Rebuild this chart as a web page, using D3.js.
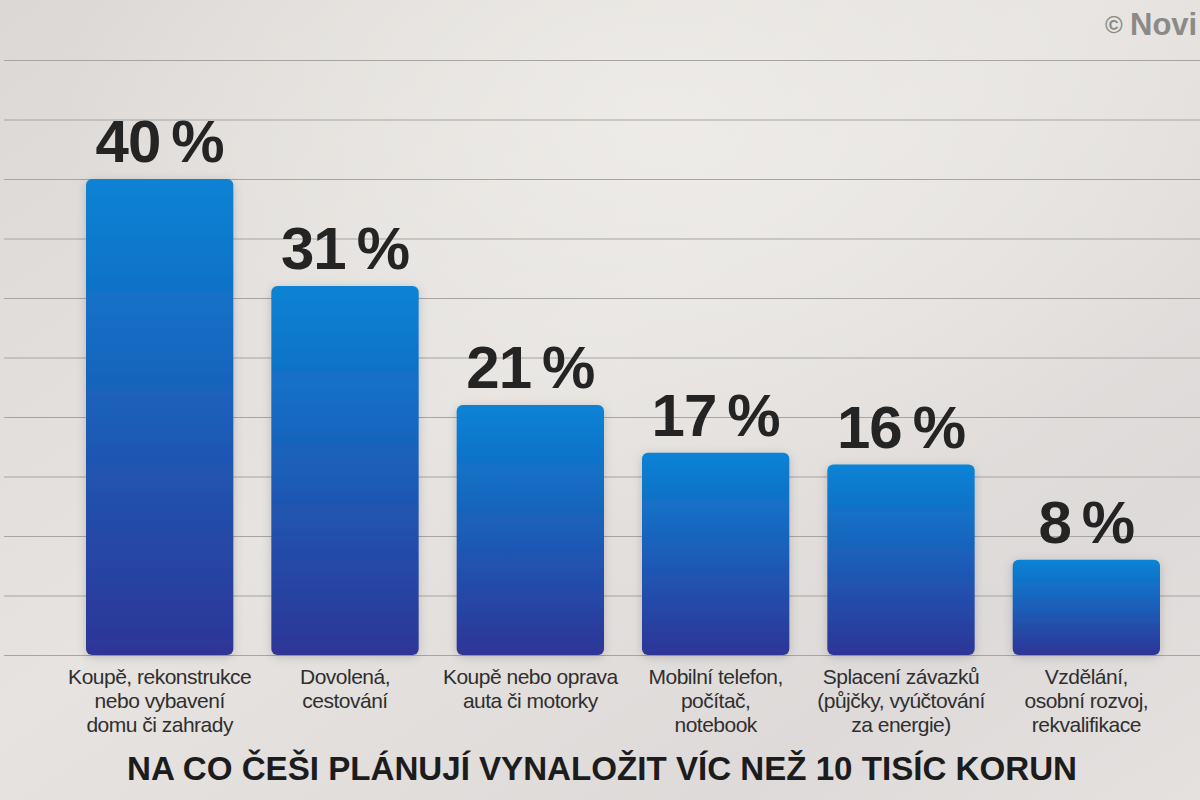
<!DOCTYPE html>
<html lang="cs">
<head>
    <meta charset="UTF-8">
    <title>Na co Češi plánují vynaložit víc než 10 tisíc korun</title>
    <script src="https://d3js.org/d3.v7.min.js"></script>
    <style>
        body { margin: 0; padding: 0; background: #e2dfdc; overflow: hidden; }
        svg { display: block; font-family: "Liberation Sans", Arial, sans-serif; }
        .grid line { stroke: #a8a4a2; stroke-width: 1.2; }
        .grid .domain { display: none; }
        .value-label { font-weight: bold; font-size: 60px; fill: #242424; letter-spacing: -1px; }
        .cat-label { font-size: 21px; fill: #2f2f2f; letter-spacing: -0.5px; }
        .title { font-weight: bold; font-size: 33px; fill: #1c1c1c; }
        .copy { font-weight: bold; fill: #8c8a89; }
    </style>
</head>
<body>
    <div id="chart"></div>

    <script>
        // Data
        const categories = [
            ["Koupě, rekonstrukce", "nebo vybavení", "domu či zahrady"],
            ["Dovolená,", "cestování"],
            ["Koupě nebo oprava", "auta či motorky"],
            ["Mobilní telefon,", "počítač,", "notebook"],
            ["Splacení závazků", "(půjčky, vyúčtování", "za energie)"],
            ["Vzdělání,", "osobní rozvoj,", "rekvalifikace"]
        ];
        const values = [40, 31, 21, 17, 16, 8];
        const gridTicks = [0, 5, 10, 15, 20, 25, 30, 35, 40, 45, 50];
        const titleText = "NA CO ČEŠI PLÁNUJÍ VYNALOŽIT VÍC NEŽ 10 TISÍC KORUN";

        const width = 1200, height = 800;
        const baseline = 655, topY = 60;

        const svg = d3.select("#chart")
            .append("svg")
            .attr("width", width)
            .attr("height", height);

        const defs = svg.append("defs");

        // background
        const bg = defs.append("linearGradient")
            .attr("id", "bg").attr("x1", 0).attr("y1", 0).attr("x2", 1).attr("y2", 1);
        bg.append("stop").attr("offset", "0%").attr("stop-color", "#dcd8d5");
        bg.append("stop").attr("offset", "45%").attr("stop-color", "#e6e3e0");
        bg.append("stop").attr("offset", "80%").attr("stop-color", "#dedad9");
        bg.append("stop").attr("offset", "100%").attr("stop-color", "#e4e1df");

        const glow = defs.append("radialGradient")
            .attr("id", "glow").attr("cx", 0.55).attr("cy", 0.15).attr("r", 0.5);
        glow.append("stop").attr("offset", "0%").attr("stop-color", "#f0eeea").attr("stop-opacity", 0.8);
        glow.append("stop").attr("offset", "100%").attr("stop-color", "#f0eeea").attr("stop-opacity", 0);

        // bar gradient
        const barGrad = defs.append("linearGradient")
            .attr("id", "barGrad").attr("x1", 0).attr("y1", 0).attr("x2", 0).attr("y2", 1);
        barGrad.append("stop").attr("offset", "0%").attr("stop-color", "#0883d5");
        barGrad.append("stop").attr("offset", "45%").attr("stop-color", "#1a62bb");
        barGrad.append("stop").attr("offset", "100%").attr("stop-color", "#2e3597");

        const shadow = defs.append("filter")
            .attr("id", "shadow").attr("x", "-20%").attr("y", "-20%").attr("width", "140%").attr("height", "140%");
        shadow.append("feDropShadow")
            .attr("dx", 0).attr("dy", 2).attr("stdDeviation", 5)
            .attr("flood-color", "#000").attr("flood-opacity", 0.18);

        svg.append("rect").attr("width", width).attr("height", height).attr("fill", "url(#bg)");
        svg.append("rect").attr("width", width).attr("height", height).attr("fill", "url(#glow)");

        // Scales
        const x = d3.scaleBand()
            .domain(d3.range(values.length))
            .range([67, 1179])
            .paddingInner(0.205)
            .paddingOuter(0.1025);

        const y = d3.scaleLinear()
            .domain([0, 50])
            .range([baseline, topY]);

        // Gridlines
        svg.append("g")
            .attr("class", "grid")
            .attr("transform", "translate(4,0)")
            .call(d3.axisLeft(y).tickValues(gridTicks).tickSize(-(width - 4)).tickFormat(""));

        // Bars
        svg.selectAll("rect.bar")
            .data(values)
            .enter()
            .append("rect")
            .attr("class", "bar")
            .attr("x", (d, i) => x(i))
            .attr("y", d => y(d))
            .attr("width", x.bandwidth())
            .attr("height", d => baseline - y(d))
            .attr("rx", 6)
            .attr("fill", "url(#barGrad)")
            .attr("filter", "url(#shadow)");

        // Value labels
        svg.selectAll("text.value-label")
            .data(values)
            .enter()
            .append("text")
            .attr("class", "value-label")
            .attr("text-anchor", "middle")
            .attr("x", (d, i) => x(i) + x.bandwidth() / 2)
            .attr("y", d => y(d) - 17)
            .text(d => d + "\u2009%");

        // Category labels
        const catG = svg.selectAll("text.cat-label")
            .data(categories)
            .enter()
            .append("text")
            .attr("class", "cat-label")
            .attr("text-anchor", "middle")
            .attr("transform", (d, i) => `translate(${x(i) + x.bandwidth() / 2},684)`);

        catG.selectAll("tspan")
            .data(d => d)
            .enter()
            .append("tspan")
            .attr("x", 0)
            .attr("y", (d, i) => i * 24)
            .text(d => d);

        // Title
        svg.append("text")
            .attr("class", "title")
            .attr("text-anchor", "middle")
            .attr("x", 602)
            .attr("y", 780)
            .attr("textLength", 950)
            .attr("lengthAdjust", "spacingAndGlyphs")
            .text(titleText);

        // Copyright mark at the top right
        svg.append("text")
            .attr("class", "copy")
            .attr("x", 1105)
            .attr("y", 33)
            .attr("font-size", 24)
            .attr("font-weight", "normal")
            .text("©");
        svg.append("text")
            .attr("class", "copy")
            .attr("x", 1130)
            .attr("y", 35)
            .attr("font-size", 31)
            .text("Novi");
    </script>
</body>
</html>
